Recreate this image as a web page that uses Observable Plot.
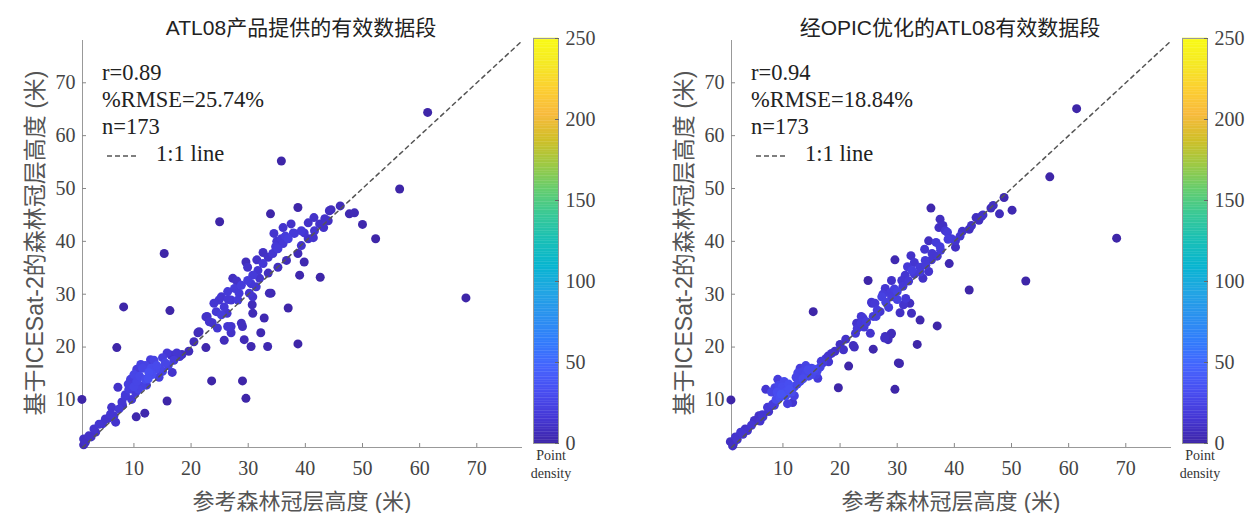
<!DOCTYPE html>
<html><head><meta charset="utf-8">
<script src="https://cdn.jsdelivr.net/npm/d3@7"></script>
<script src="https://cdn.jsdelivr.net/npm/@observablehq/plot@0.6"></script>
<style>
body{margin:0;background:#fff;}
#wrap{position:relative;width:1249px;height:513px;overflow:hidden;font-family:"Liberation Serif",serif;}
#wrap > *{position:absolute;}
.title{font-family:"Liberation Sans","Noto Sans CJK SC",sans-serif;font-size:21px;color:#222;white-space:nowrap;transform:translate(-50%,-50%);}
.xlab{font-family:"Liberation Sans","Noto Sans CJK SC",sans-serif;font-size:22px;color:#555;white-space:nowrap;transform:translate(-50%,-50%);}
.ylab{font-family:"Liberation Sans","Noto Sans CJK SC",sans-serif;font-size:23px;color:#555;white-space:nowrap;transform:translate(-50%,-50%) rotate(-90deg);}
.stats{font-family:"Liberation Serif",serif;font-size:22.5px;line-height:27px;color:#222;white-space:nowrap;}
.pd{font-family:"Liberation Serif",serif;font-size:14px;line-height:18px;text-align:center;color:#333;transform:translateX(-50%);}
</style></head>
<body><div id="wrap"></div>
<script>
// ---------- data ----------
const titles = ["ATL08产品提供的有效数据段", "经OPIC优化的ATL08有效数据段"];
const xLabel = "参考森林冠层高度 (米)";
const yLabel = "基于ICESat-2的森林冠层高度 (米)";
const statsA = ["r=0.89", "%RMSE=25.74%", "n=173"];
const statsB = ["r=0.94", "%RMSE=18.84%", "n=173"];
const lineLabel = "1:1 line";
const densityLabel = ["Point", "density"];
const axisRange = [1, 78];
const tickValues = [10, 20, 30, 40, 50, 60, 70];
const oneToOne = [1, 78];
const densityTicks = [0, 50, 100, 150, 200, 250];
const densityRange = [0, 250];
const parula = ["#3e26a8","#4537d5","#484df0","#4563fd","#327cfc","#2b91ef","#20a5e3","#08b5d0","#19bfb6","#37c897","#64cd6f","#9dc943","#d1bf27","#f8ba3d","#fccf30","#f5e924","#f9fb15"];

// [reference height, ICESat-2 height]
const pairsATL08 = [
[0.9,10.1],[1.2,2.6],[1.2,1.5],[2.1,3.2],[3,4.5],[3.9,5.4],[3.3,3.9],[5,6.4],[5.9,7.3],[6.1,8.6],
[6.8,5.8],[7.4,8.3],[7.2,12.4],[7,19.9],[8.2,27.6],[7.9,9.6],[8.5,10.7],[9.1,12],[9.4,13.9],[10,14.8],
[10.5,15.8],[11.2,16.7],[9.6,10.1],[10.3,11.4],[10.4,6.8],[11.9,7.5],[11.4,12.6],[12,13.9],[12.6,15.2],[12.9,17.6],
[13.8,15.8],[14.4,14.3],[15,15.4],[15.8,9.8],[15.8,18.9],[16.7,15.2],[16.3,26.9],[17.5,18.9],[18.4,18.6],[19.6,19.2],
[21.4,22.9],[22.6,19.9],[22.8,25.8],[23.7,24.6],[23.6,13.6],[24.6,23.6],[25.8,21.3],[26.3,26.4],[24.9,28.9],[27,23.9],
[29,23.9],[29.3,21.4],[30.5,20.1],[29,13.6],[29.6,10.3],[30.7,28],[32.2,22.7],[32.8,25.5],[33.4,20.1],[29.6,36.1],
[27.3,33],[39.8,36.1],[39,33.6],[37,27.4],[38.7,20.6],[33.7,30.2],[35.8,55.2],[25,43.7],[33.9,45.2],[38.7,46.4],
[44.2,45.8],[46.1,46.7],[47.7,45.2],[48.6,45.4],[50,43.2],[52.3,40.5],[37.5,43.3],[37.9,41.6],[39.8,41.6],[41.4,40.7],
[43.2,42.6],[44,43.9],[35.8,40.5],[32.6,37.9],[33.5,37],[42.6,33.2],[24,28.3],[25.3,29.5],[25.8,27.6],[26.4,30.5],
[27.6,31.1],[28.4,30.2],[28.8,31.7],[29.9,32.6],[30.8,33.6],[31.7,34.5],[32.6,35.8],[34.3,37.7],[35.2,38.6],[36.1,39.6],
[37,40.5],[38.1,41.5],[39.3,42],[40.5,40.5],[41.6,42],[42.5,43.3],[43.4,44.3],[36.1,42.6],[33.5,34],[30.5,32],
[27,28.9],[28.2,28.9],[30.2,30.2],[24.4,26.7],[23.2,24.8],[25.3,26.1],[26.4,23.9],[28.8,24.5],[27,22.7],[30.8,26.4],
[34,30.2],[31.4,31.4],[35.2,35.1],[36.7,36.4],[38.7,37.7],[39.3,39.2],[29.9,35.1],[30.8,29.5],[61.4,64.4],[56.5,49.9],
[68.1,29.3],[34.5,41.5],[15.3,37.7],[8.5,11],[9,13],[10,12.5],[10.5,13.5],[11,14.5],[11.5,16],[12,16.5],
[12.5,14],[13,16],[13.5,17.5],[14,16.5],[10.8,12],[12.2,12.8],[13.2,14.8],[14.5,16],[15.5,17],[16,16.5],
[17,17.5],[18,18.2],[16.5,18.5],[15,18],[8,9],[6.5,7],[5.5,6.5],[4.5,5.5],[2.5,3],[1.5,2],
[21.2,22.7],[22.6,25.7],[20.5,21],[36.5,41],[34.8,39],[40.5,43.5],[41.5,44.5],[35,40],[31.5,36.5],[32,33],
[28,32.5],[26.5,29],[44.5,46]
];
const pairsOPIC = [
[0.9,10],[0.8,2.1],[1.7,3],[2.6,3.9],[3.4,4.5],[5,6.1],[5.8,7],[6.4,7.2],[7.3,8.6],[7,12],
[8.2,9.2],[8.8,10.1],[9.1,13.9],[9.7,11.1],[9.9,12.5],[10.5,10.8],[11.1,12],[11.7,9.5],[10.8,9.3],[12,10.8],
[12.6,15.1],[13.5,15.4],[14.4,15.7],[15,14.8],[15.8,14.8],[16.1,14.1],[16.7,17.3],[17.9,18.3],[19.1,19.2],[19.7,12.3],
[21.5,16.4],[22.5,20],[22.7,22.6],[23.7,24.5],[24.6,24.7],[25.6,28.3],[25.8,19.6],[27.9,22],[28.9,22.4],[29.6,12],
[30.4,16.9],[15.3,26.7],[24.9,32.6],[29.6,36.5],[34,25.1],[33.5,20.5],[37,24],[61.4,65.1],[56.7,52.2],[68.4,40.6],
[48.7,48.3],[46.4,46.3],[47.9,45.2],[50.1,45.9],[43.8,44.5],[44.3,44],[42.6,42.3],[41.4,41.9],[40.2,40.1],[38.4,42],
[37.3,42.6],[35.9,46.3],[40.2,38.9],[38,43],[38.8,41.7],[38.9,40.4],[35.5,40.1],[36.8,39.8],[37.6,38.3],[36.1,37.7],
[34.9,36.4],[39.1,35.8],[34,35.1],[32.6,34.5],[31.4,33.6],[30.8,32.6],[29,32.6],[27.9,31.1],[28.8,30.3],[26.1,28.3],
[27.3,29.5],[25.5,28.5],[23.7,25.8],[22.9,24.5],[24.6,24.8],[25.8,25.8],[27,26.7],[22.3,20.3],[27.8,21.7],[29,22.6],
[28.4,21.4],[31.1,28],[32.2,28.3],[32.5,26.4],[42.6,30.8],[52.5,32.5],[30.2,17],[30,30.5],[31,31.5],[32,32.5],
[33,33.8],[34,34.2],[35,35.5],[36,36.5],[37,37.2],[28,28.5],[29,29.5],[30,29],[26.5,27],[24,25.5],
[23,23.5],[21,21.5],[20,20.5],[18.5,18.8],[17.5,17.8],[16.5,16.2],[15.5,15.8],[14.5,14.5],[13.5,14],[12.5,13],
[11.5,11.5],[10.5,11.5],[9.5,10.5],[8.5,9],[7.5,7.8],[6.5,6.8],[4.5,5.2],[3.8,4.2],[2,2.5],[1.3,1.6],
[11,13],[10,12],[12,12.5],[13,13.5],[9,11.5],[8,11.5],[14,15],[15,16],[16,15.5],[17,17],
[27.5,30],[26.3,25.8],[29.5,31],[31.5,29.2],[34.5,33],[35.5,34.3],[37.5,39],[39.5,40.5],[41,41],[43,43],
[45,45],[33,36],[31.8,35.2],[37.5,44.2],[34.8,38.5],[28.5,27.5],[30.5,26.5],[44.8,44.8],[46.8,46.8],[20.6,19.5],
[18,17.2],[12.3,14.3],[10.2,13.5],[9.3,12.8],[8.6,12.3],[13,16],[14,16.5],[32.4,37.3],[24.2,23.8],[25.3,22.6],
[6,6],[3,3.5],[1.2,1.3]
];

// ---------- shared scale ----------
const colorScale = {
  type: "linear",
  domain: parula.map((_, i) => densityRange[0] + i * (densityRange[1] - densityRange[0]) / (parula.length - 1)),
  range: parula
};
const baseStyle = {fontFamily: "Liberation Serif", fontSize: "20px", color: "#444", background: "transparent", overflow: "visible"};

function scatter(pairs) {
  const pts = pairs.map(([x, y]) => ({x, y}));
  pts.forEach(p => { p.d = 1.6 * (pts.filter(q => Math.hypot(q.x - p.x, q.y - p.y) < 3).length - 1); });
  pts.sort((a, b) => a.d - b.d);
  return Plot.plot({
    width: 530, height: 513,
    marginLeft: 82, marginRight: 8, marginTop: 40, marginBottom: 66,
    x: {domain: axisRange}, y: {domain: axisRange},
    color: colorScale,
    style: baseStyle,
    marks: [
      Plot.ruleX([axisRange[0]], {stroke: "#999"}),
      Plot.ruleY([axisRange[0]], {stroke: "#999"}),
      Plot.axisX({ticks: tickValues, tickSize: -4, tickPadding: 17, label: null, stroke: "#888", fill: "#444"}),
      Plot.axisY({ticks: tickValues, tickSize: -4, tickPadding: 11, label: null, stroke: "#888", fill: "#444"}),
      Plot.dot(pts, {x: "x", y: "y", r: 4.5, fill: "d"}),
      Plot.line(oneToOne.map(v => ({x: v, y: v})), {x: "x", y: "y", stroke: "#555", strokeWidth: 1.5, strokeDasharray: "4,4"})
    ]
  });
}

function colorbar() {
  const vals = d3.range(densityRange[0], densityRange[1], 1);
  return Plot.plot({
    width: 75, height: 425,
    marginLeft: 0, marginRight: 50, marginTop: 10, marginBottom: 10,
    x: {domain: [0, 1], axis: null},
    y: {domain: densityRange},
    color: colorScale,
    style: baseStyle,
    marks: [
      Plot.rect(vals, {x1: 0, x2: 1, y1: d => d, y2: d => d + 1.2, fill: d => d + 0.5}),
      Plot.frame({stroke: "#999"}),
      Plot.axisY({anchor: "right", ticks: densityTicks, tickSize: -4, tickPadding: 11, label: null, stroke: "#666", fill: "#444"})
    ]
  });
}

const wrap = document.getElementById("wrap");
function place(el, left, top) { el.style.left = left + "px"; el.style.top = top + "px"; wrap.appendChild(el); return el; }
function textDiv(cls, html, left, top) { const d = document.createElement("div"); d.className = cls; d.innerHTML = html; return place(d, left, top); }

[[pairsATL08, statsA, 0], [pairsOPIC, statsB, 649]].forEach(([pairs, stats, off], k) => {
  place(scatter(pairs), off, 0);
  place(colorbar(), 533 + off, 28);
  textDiv("title", titles[k], 301 + off, 26);
  textDiv("xlab", xLabel, 302 + off, 499);
  textDiv("ylab", yLabel, 33 + off, 243);
  textDiv("stats",
    stats.join("<br>") +
    `<br><span style="display:inline-flex;align-items:center;gap:0"><svg width="50" height="10" style="margin-left:4px"><line x1="1" y1="5" x2="32" y2="5" stroke="#555" stroke-width="1.5" stroke-dasharray="5,3"/></svg></span>${lineLabel}`,
    102 + off, 59);
  textDiv("pd", densityLabel.join("<br>"), 551 + off, 447);
});
</script>
</body></html>
